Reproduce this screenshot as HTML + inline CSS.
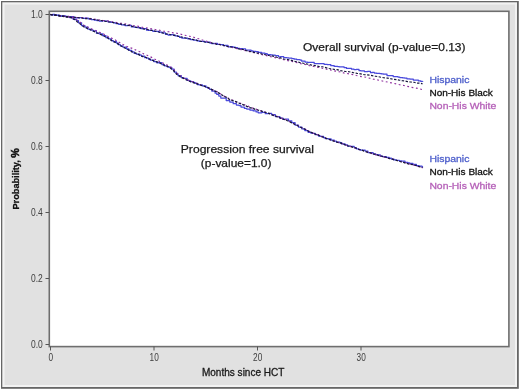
<!DOCTYPE html>
<html><head><meta charset="utf-8"><title>Survival</title>
<style>
html,body{margin:0;padding:0;background:#fff;}
body{width:520px;height:390px;overflow:hidden;}
svg{display:block;filter:blur(0.35px);font-family:"Liberation Sans","DejaVu Sans",sans-serif;}
.tk{font-size:10.6px;fill:#3e3e3e;}
.lb{fill:#1a1a1a;stroke:#1a1a1a;stroke-width:0.25px;}
.lg{font-size:9.7px;stroke-width:0.3px;}
.ax{fill:#1a1a1a;stroke:#1a1a1a;stroke-width:0.3px;}
.ay{fill:#111;font-weight:bold;stroke:#111;stroke-width:0.3px;}
</style></head><body>
<svg width="520" height="390" viewBox="0 0 520 390">
<rect x="0" y="0" width="520" height="390" fill="#fff"/>
<rect x="1" y="1" width="517.8" height="387.8" fill="#666"/>
<rect x="2.3" y="2.3" width="514.7" height="384.7" fill="#f2f2f2"/>
<rect x="4.5" y="4.5" width="510.5" height="380.5" fill="#e1e1e1"/>
<rect x="49.3" y="11.3" width="459.6" height="335.3" fill="#fff" stroke="#6e6e6e" stroke-width="1.6"/>
<line x1="45.5" x2="49" y1="14.5" y2="14.5" stroke="#555" stroke-width="1"/>
<text transform="translate(42.8,18.2) scale(0.8,1)" text-anchor="end" class="tk">1.0</text>
<line x1="45.5" x2="49" y1="80.5" y2="80.5" stroke="#555" stroke-width="1"/>
<text transform="translate(42.8,84.2) scale(0.8,1)" text-anchor="end" class="tk">0.8</text>
<line x1="45.5" x2="49" y1="146.5" y2="146.5" stroke="#555" stroke-width="1"/>
<text transform="translate(42.8,150.2) scale(0.8,1)" text-anchor="end" class="tk">0.6</text>
<line x1="45.5" x2="49" y1="212.5" y2="212.5" stroke="#555" stroke-width="1"/>
<text transform="translate(42.8,216.2) scale(0.8,1)" text-anchor="end" class="tk">0.4</text>
<line x1="45.5" x2="49" y1="278.5" y2="278.5" stroke="#555" stroke-width="1"/>
<text transform="translate(42.8,282.2) scale(0.8,1)" text-anchor="end" class="tk">0.2</text>
<line x1="45.5" x2="49" y1="344.5" y2="344.5" stroke="#555" stroke-width="1"/>
<text transform="translate(42.8,348.2) scale(0.8,1)" text-anchor="end" class="tk">0.0</text>
<line x1="50.5" x2="50.5" y1="346.5" y2="350.5" stroke="#555" stroke-width="1"/>
<text transform="translate(50.7,360.9) scale(0.78,1)" text-anchor="middle" class="tk">0</text>
<line x1="154" x2="154" y1="346.5" y2="350.5" stroke="#555" stroke-width="1"/>
<text transform="translate(154.2,360.9) scale(0.78,1)" text-anchor="middle" class="tk">10</text>
<line x1="257.5" x2="257.5" y1="346.5" y2="350.5" stroke="#555" stroke-width="1"/>
<text transform="translate(257.7,360.9) scale(0.78,1)" text-anchor="middle" class="tk">20</text>
<line x1="361" x2="361" y1="346.5" y2="350.5" stroke="#555" stroke-width="1"/>
<text transform="translate(361.2,360.9) scale(0.78,1)" text-anchor="middle" class="tk">30</text>
<g fill="none" stroke-linejoin="round" filter="url(#b)">
<path d="M50.4,14.5 L52.5,14.5 L52.5,14.9 L54.8,14.9 L54.8,15.3 L57.6,15.3 L57.6,15.2 L59.2,15.2 L59.2,16.2 L61.3,16.2 L61.3,15.8 L65.0,15.8 L65.0,16.4 L68.3,16.4 L68.3,16.7 L71.2,16.7 L71.2,16.7 L74.0,16.7 L74.0,17.7 L76.7,17.7 L76.7,17.9 L79.6,17.9 L79.6,17.6 L82.8,17.6 L82.8,18.4 L85.0,18.4 L85.0,18.1 L88.3,18.1 L88.3,18.9 L91.4,18.9 L91.4,19.7 L94.4,19.7 L94.4,20.2 L96.8,20.2 L96.8,20.5 L99.3,20.5 L99.3,21.0 L102.7,21.0 L102.7,20.7 L104.5,20.7 L104.5,21.1 L108.1,21.1 L108.1,21.9 L111.0,21.9 L111.0,22.3 L113.6,22.3 L113.6,22.9 L115.9,22.9 L115.9,23.5 L118.6,23.5 L118.6,24.3 L121.6,24.3 L121.6,24.9 L125.0,24.9 L125.0,25.6 L127.9,25.6 L127.9,25.4 L131.3,25.4 L131.3,26.9 L134.7,26.9 L134.7,27.3 L137.7,27.3 L137.7,27.6 L141.0,27.6 L141.0,28.7 L143.2,28.7 L143.2,28.6 L146.5,28.6 L146.5,30.2 L148.3,30.2 L148.3,30.4 L150.7,30.4 L150.7,30.3 L152.9,30.3 L152.9,31.4 L156.2,31.4 L156.2,31.4 L159.1,31.4 L159.1,32.0 L162.1,32.0 L162.1,32.9 L165.5,32.9 L165.5,34.4 L168.1,34.4 L168.1,35.0 L170.3,35.0 L170.3,34.5 L173.1,34.5 L173.1,35.1 L175.1,35.1 L175.1,35.9 L177.9,35.9 L177.9,36.3 L179.6,36.3 L179.6,37.4 L181.8,37.4 L181.8,38.0 L185.2,38.0 L185.2,38.1 L187.7,38.1 L187.7,38.8 L190.6,38.8 L190.6,39.5 L193.4,39.5 L193.4,40.1 L196.9,40.1 L196.9,40.8 L199.3,40.8 L199.3,41.4 L201.4,41.4 L201.4,41.4 L205.0,41.4 L205.0,42.2 L207.7,42.2 L207.7,42.2 L210.1,42.2 L210.1,43.2 L211.7,43.2 L211.7,43.5 L214.6,43.5 L214.6,43.4 L217.4,43.4 L217.4,44.3 L220.4,44.3 L220.4,44.7 L223.5,44.7 L223.5,45.7 L225.1,45.7 L225.1,45.3 L228.0,45.3 L228.0,46.8 L230.1,46.8 L230.1,46.7 L232.9,46.7 L232.9,47.1 L235.2,47.1 L235.2,47.5 L237.5,47.5 L237.5,48.3 L239.7,48.3 L239.7,48.6 L242.9,48.6 L242.9,48.9 L245.6,48.9 L245.6,50.2 L247.8,50.2 L247.8,50.1 L251.1,50.1 L251.1,50.8 L253.0,50.8 L253.0,51.4 L256.0,51.4 L256.0,51.7 L258.3,51.7 L258.3,52.4 L261.6,52.4 L261.6,53.1 L264.9,53.1 L264.9,53.5 L267.2,53.5 L267.2,54.5 L270.6,54.5 L270.6,54.9 L272.6,54.9 L272.6,55.0 L275.3,55.0 L275.3,55.5 L278.5,55.5 L278.5,56.8 L280.4,56.8 L280.4,56.5 L283.7,56.5 L283.7,57.5 L286.9,57.5 L286.9,57.8 L288.7,57.8 L288.7,58.0 L291.9,58.0 L291.9,58.6 L294.2,58.6 L294.2,59.2 L296.7,59.2 L296.7,59.7 L300.1,59.7 L300.1,60.1 L301.7,60.1 L301.7,61.2 L305.1,61.2 L305.1,62.0 L307.6,62.0 L307.6,62.4 L311.1,62.4 L311.1,62.4 L314.2,62.4 L314.2,63.5 L317.1,63.5 L317.1,63.6 L319.3,63.6 L319.3,63.7 L321.3,63.7 L321.3,63.7 L324.1,63.7 L324.1,64.3 L327.3,64.3 L327.3,64.6 L330.8,64.6 L330.8,65.7 L334.2,65.7 L334.2,66.4 L337.7,66.4 L337.7,66.5 L339.3,66.5 L339.3,66.9 L341.2,66.9 L341.2,66.8 L344.1,66.8 L344.1,67.6 L346.5,67.6 L346.5,68.4 L349.4,68.4 L349.4,68.3 L351.5,68.3 L351.5,69.2 L354.0,69.2 L354.0,69.6 L356.3,69.6 L356.3,69.4 L359.0,69.4 L359.0,70.5 L360.9,70.5 L360.9,70.9 L364.4,70.9 L364.4,71.5 L367.6,71.5 L367.6,71.3 L370.5,71.3 L370.5,72.7 L372.2,72.7 L372.2,72.4 L374.3,72.4 L374.3,73.0 L376.7,73.0 L376.7,73.4 L379.9,73.4 L379.9,73.5 L381.6,73.5 L381.6,73.9 L383.4,73.9 L383.4,74.2 L387.0,74.2 L387.0,75.6 L388.7,75.6 L388.7,75.5 L390.9,75.5 L390.9,75.7 L393.2,75.7 L393.2,76.5 L396.0,76.5 L396.0,76.7 L398.0,76.7 L398.0,77.0 L399.8,77.0 L399.8,77.5 L402.8,77.5 L402.8,77.9 L404.6,77.9 L404.6,78.0 L406.9,78.0 L406.9,78.8 L410.1,78.8 L410.1,79.2 L413.3,79.2 L413.3,80.0 L415.8,80.0 L415.8,80.2 L418.4,80.2 L418.4,80.9 L420.8,80.9 L420.8,81.4 L422.7,81.4 L422.7,81.2" stroke="#4848dc" stroke-width="1.25"/>
<path d="M50.4,14.5 L52.5,14.5 L52.5,14.4 L54.8,14.4 L54.8,14.8 L56.5,14.8 L56.5,15.3 L60.0,15.3 L60.0,16.2 L63.2,16.2 L63.2,16.1 L65.8,16.1 L65.8,16.5 L67.7,16.5 L67.7,16.6 L69.8,16.6 L69.8,17.7 L73.0,17.7 L73.0,19.0 L76.3,19.0 L76.3,20.6 L78.5,20.6 L78.5,22.8 L81.6,22.8 L81.6,25.6 L84.9,25.6 L84.9,27.1 L87.8,27.1 L87.8,29.1 L90.4,29.1 L90.4,29.9 L92.9,29.9 L92.9,30.9 L96.4,30.9 L96.4,33.2 L99.1,33.2 L99.1,33.8 L102.6,33.8 L102.6,35.7 L106.0,35.7 L106.0,37.7 L108.6,37.7 L108.6,38.8 L111.4,38.8 L111.4,40.5 L113.3,40.5 L113.3,41.5 L116.5,41.5 L116.5,43.1 L118.2,43.1 L118.2,44.6 L120.3,44.6 L120.3,45.8 L122.9,45.8 L122.9,47.0 L126.5,47.0 L126.5,48.9 L128.9,48.9 L128.9,50.3 L131.8,50.3 L131.8,51.8 L134.1,51.8 L134.1,53.3 L136.3,53.3 L136.3,54.1 L139.8,54.1 L139.8,55.2 L141.5,55.2 L141.5,56.0 L144.6,56.0 L144.6,57.7 L146.7,57.7 L146.7,58.2 L148.6,58.2 L148.6,59.1 L150.2,59.1 L150.2,60.0 L153.7,60.0 L153.7,61.6 L156.8,61.6 L156.8,62.8 L158.4,62.8 L158.4,62.7 L161.9,62.7 L161.9,64.6 L164.3,64.6 L164.3,65.8 L167.2,65.8 L167.2,66.8 L169.4,66.8 L169.4,67.4 L171.8,67.4 L171.8,69.2 L174.2,69.2 L174.2,72.0 L176.4,72.0 L176.4,73.8 L178.1,73.8 L178.1,75.7 L181.3,75.7 L181.3,77.5 L183.5,77.5 L183.5,78.3 L187.1,78.3 L187.1,80.4 L189.0,80.4 L189.0,80.8 L190.7,80.8 L190.7,81.5 L193.7,81.5 L193.7,82.5 L195.3,82.5 L195.3,83.4 L197.4,83.4 L197.4,84.7 L199.2,84.7 L199.2,84.9 L202.4,84.9 L202.4,85.9 L206.0,85.9 L206.0,87.3 L208.1,87.3 L208.1,88.4 L209.7,88.4 L209.7,89.4 L211.8,89.4 L211.8,91.1 L215.1,91.1 L215.1,93.2 L216.7,93.2 L216.7,94.3 L218.8,94.3 L218.8,96.0 L220.8,96.0 L220.8,98.0 L222.7,98.0 L222.7,98.1 L226.2,98.1 L226.2,100.5 L229.8,100.5 L229.8,102.1 L233.2,102.1 L233.2,103.7 L236.4,103.7 L236.4,105.1 L239.0,105.1 L239.0,105.5 L241.0,105.5 L241.0,107.0 L244.4,107.0 L244.4,108.4 L246.7,108.4 L246.7,109.0 L249.9,109.0 L249.9,110.1 L253.2,110.1 L253.2,110.9 L256.1,110.9 L256.1,111.9 L258.2,111.9 L258.2,112.8 L261.8,112.8 L261.8,112.4 L265.3,112.4 L265.3,113.7 L268.3,113.7 L268.3,113.4 L271.7,113.4 L271.7,114.7 L275.3,114.7 L275.3,116.5 L277.0,116.5 L277.0,116.6 L279.9,116.6 L279.9,118.0 L283.0,118.0 L283.0,119.4 L285.0,119.4 L285.0,119.2 L288.5,119.2 L288.5,120.8 L291.8,120.8 L291.8,122.7 L295.1,122.7 L295.1,125.1 L298.5,125.1 L298.5,127.0 L301.9,127.0 L301.9,128.9 L304.8,128.9 L304.8,130.6 L308.2,130.6 L308.2,132.4 L310.8,132.4 L310.8,133.1 L312.4,133.1 L312.4,133.3 L315.2,133.3 L315.2,134.7 L318.5,134.7 L318.5,136.0 L320.4,136.0 L320.4,136.4 L323.6,136.4 L323.6,137.7 L325.1,137.7 L325.1,138.6 L328.4,138.6 L328.4,138.9 L331.1,138.9 L331.1,140.1 L334.3,140.1 L334.3,141.1 L336.4,141.1 L336.4,142.0 L339.9,142.0 L339.9,142.7 L341.7,142.7 L341.7,143.9 L345.1,143.9 L345.1,144.9 L347.6,144.9 L347.6,146.1 L350.8,146.1 L350.8,146.3 L354.2,146.3 L354.2,147.5 L356.3,147.5 L356.3,148.8 L358.8,148.8 L358.8,149.5 L360.7,149.5 L360.7,150.2 L362.6,150.2 L362.6,150.1 L365.2,150.1 L365.2,151.1 L367.9,151.1 L367.9,152.5 L370.9,152.5 L370.9,152.5 L373.1,152.5 L373.1,153.8 L375.7,153.8 L375.7,154.7 L378.3,154.7 L378.3,154.8 L380.3,154.8 L380.3,156.1 L382.6,156.1 L382.6,156.6 L386.3,156.6 L386.3,157.4 L389.2,157.4 L389.2,158.2 L391.4,158.2 L391.4,159.1 L394.0,159.1 L394.0,159.8 L396.2,159.8 L396.2,160.3 L399.4,160.3 L399.4,160.9 L401.8,160.9 L401.8,161.2 L405.0,161.2 L405.0,162.3 L407.9,162.3 L407.9,162.9 L409.7,162.9 L409.7,163.4 L412.9,163.4 L412.9,164.3 L416.4,164.3 L416.4,165.5 L419.1,165.5 L419.1,166.2 L422.0,166.2 L422.0,166.7 L422.5,166.7 L422.5,167.7" stroke="#4848dc" stroke-width="1.25"/>
<path d="M50.4,14.5 L53.3,15.0 L56.5,15.5 L59.6,15.9 L61.2,15.9 L64.7,16.3 L68.1,16.4 L70.7,16.7 L73.4,17.1 L75.0,17.1 L77.1,17.5 L80.3,17.5 L83.5,17.8 L86.3,18.0 L87.9,18.5 L89.9,18.4 L93.5,19.1 L95.6,19.4 L98.3,19.7 L100.3,20.1 L103.3,20.5 L106.7,20.8 L109.0,21.1 L110.9,21.4 L113.1,22.0 L114.7,22.3 L116.9,22.5 L120.2,23.2 L122.4,23.5 L125.4,23.9 L129.0,24.5 L132.1,25.4 L133.7,25.7 L136.0,26.1 L137.6,26.1 L139.6,26.8 L141.5,27.1 L145.0,27.8 L147.3,28.0 L150.0,28.6 L151.7,28.9 L155.0,29.5 L156.6,29.8 L158.3,29.9 L161.2,30.7 L163.4,31.1 L166.1,31.3 L168.4,31.7 L170.1,32.0 L173.1,32.9 L175.0,32.8 L178.6,33.7 L181.0,34.2 L183.8,35.1 L186.3,35.5 L188.0,36.1 L189.6,36.3 L192.9,37.0 L196.0,38.1 L198.8,38.8 L200.6,39.2 L202.5,40.0 L204.7,40.5 L208.3,41.8 L211.9,42.8 L214.5,43.5 L217.0,43.9 L219.4,44.4 L221.8,45.3 L225.3,45.9 L227.9,46.4 L229.7,46.8 L232.9,47.7 L235.2,48.2 L238.3,49.0 L241.3,49.7 L243.6,50.2 L245.7,50.6 L248.9,51.5 L251.1,52.1 L254.0,52.6 L255.6,53.0 L257.7,53.5 L260.2,54.2 L263.1,54.9 L265.4,55.3 L268.5,56.1 L270.8,56.7 L274.1,57.4 L277.7,58.4 L280.3,58.8 L282.3,59.4 L285.8,60.1 L288.8,60.9 L291.8,61.4 L295.0,62.3 L298.0,62.9 L300.8,63.7 L303.7,64.4 L305.3,64.5 L307.8,65.3 L309.8,65.8 L312.7,66.2 L315.2,66.8 L316.9,67.1 L319.1,67.6 L321.1,67.9 L323.6,68.6 L326.4,69.2 L328.5,69.8 L330.1,69.9 L332.2,70.4 L334.0,70.9 L336.3,71.1 L339.2,71.7 L341.9,72.3 L344.6,73.2 L347.9,73.6 L351.2,74.4 L353.5,74.7 L356.3,75.5 L359.8,76.4 L362.7,76.8 L366.1,77.3 L367.9,77.9 L370.7,78.4 L373.6,79.3 L375.9,79.6 L377.9,80.0 L381.5,80.8 L385.1,81.7 L387.9,82.1 L391.5,82.9 L393.9,83.4 L397.5,84.2 L399.7,84.7 L401.5,85.1 L404.0,85.5 L407.2,86.4 L408.7,86.6 L410.9,87.3 L414.1,87.7 L416.2,88.1 L419.8,88.9 L422.6,89.6 L422.7,89.6" stroke="#8e2f9e" stroke-width="1.15" stroke-dasharray="1.8 2.6"/>
<path d="M50.4,14.5 L53.6,15.0 L56.2,15.2 L57.7,15.5 L60.3,15.9 L62.6,16.2 L64.7,16.5 L67.8,16.8 L70.5,17.3 L72.5,17.8 L75.7,19.1 L78.9,21.4 L82.2,23.8 L84.0,25.2 L87.2,26.7 L89.0,27.5 L91.9,29.0 L95.4,30.5 L97.4,31.3 L99.7,32.4 L103.1,33.8 L106.0,35.3 L109.3,37.1 L110.9,37.7 L113.7,39.2 L116.5,40.7 L119.9,42.8 L121.7,43.9 L123.9,44.9 L126.5,46.2 L128.5,47.3 L131.5,48.1 L134.7,49.4 L136.9,50.7 L139.8,51.7 L142.1,52.9 L143.9,54.0 L145.6,54.6 L148.7,56.0 L152.3,57.7 L155.9,59.7 L158.9,61.1 L161.3,62.3 L164.6,63.7 L167.1,65.0 L169.5,66.2 L172.6,68.5 L175.2,71.1 L177.1,73.2 L178.9,75.1 L181.2,76.3 L183.7,77.9 L185.8,78.9 L189.2,80.6 L191.3,81.3 L193.9,82.1 L196.2,83.1 L199.5,84.4 L202.4,85.8 L205.9,86.9 L208.7,88.0 L211.1,89.0 L214.3,90.5 L216.5,91.3 L219.0,92.7 L220.6,93.9 L222.4,94.9 L224.7,96.4 L228.0,97.9 L230.0,99.3 L232.8,100.2 L236.0,101.6 L238.6,102.5 L240.4,103.2 L242.2,104.0 L245.0,105.0 L247.9,106.1 L249.7,107.0 L252.2,107.9 L255.1,108.8 L256.9,109.4 L258.6,109.9 L262.1,111.2 L265.5,112.2 L268.5,113.3 L270.4,114.1 L273.8,115.2 L277.0,116.4 L279.1,117.3 L280.8,118.0 L284.4,119.2 L287.9,120.5 L291.3,122.3 L294.8,124.1 L298.3,125.7 L300.1,126.9 L302.9,128.2 L304.6,128.9 L306.9,130.0 L310.5,132.0 L314.1,133.5 L316.3,134.2 L319.4,135.5 L322.1,136.8 L324.7,137.7 L326.4,138.5 L328.0,139.0 L329.9,139.5 L331.8,140.3 L334.2,140.9 L336.2,141.7 L339.6,142.8 L341.5,143.4 L343.6,144.2 L346.8,145.3 L348.7,145.8 L351.1,146.6 L353.5,147.6 L356.2,148.4 L359.2,149.4 L362.5,150.3 L365.4,151.5 L367.3,152.0 L369.7,152.6 L371.3,153.4 L373.1,154.0 L374.9,154.4 L376.5,154.9 L379.7,155.7 L382.4,156.7 L384.6,157.1 L387.7,158.1 L389.6,158.5 L391.4,158.8 L395.0,159.8 L398.5,161.0 L401.4,161.8 L404.4,162.5 L406.8,163.1 L410.2,164.3 L413.4,165.0 L416.2,165.8 L419.4,166.9 L422.5,167.8" stroke="#8e2f9e" stroke-width="1.15" stroke-dasharray="1.8 2.6"/>
<path d="M50.4,14.5 L52.6,14.7 L55.5,15.1 L58.2,15.6 L59.9,15.9 L61.5,16.1 L63.2,16.1 L65.7,16.7 L67.5,16.6 L70.4,17.2 L73.1,17.2 L76.7,17.4 L80.1,17.9 L81.9,18.0 L84.1,18.5 L86.1,18.6 L89.0,18.8 L91.7,18.9 L93.3,19.3 L96.3,19.8 L98.5,20.2 L101.0,20.5 L104.2,21.2 L106.3,21.4 L109.0,22.0 L112.0,22.3 L115.6,22.9 L118.1,23.7 L119.9,23.9 L121.6,24.3 L124.7,24.8 L128.1,25.4 L131.1,26.1 L133.9,26.7 L137.2,27.6 L139.7,28.0 L141.4,28.4 L144.3,29.1 L147.6,29.5 L150.0,30.2 L151.6,30.4 L153.5,30.6 L155.2,31.3 L157.0,31.5 L159.4,32.3 L161.1,32.5 L163.8,33.3 L167.1,34.0 L169.2,34.3 L171.5,35.0 L175.1,35.4 L177.0,35.9 L179.0,36.5 L181.8,37.0 L183.4,37.4 L185.7,38.0 L189.3,38.8 L191.9,39.4 L194.9,39.7 L198.3,40.8 L201.7,41.5 L204.0,41.7 L205.8,42.2 L207.5,42.2 L209.5,42.6 L211.8,43.0 L213.3,43.4 L215.1,43.8 L216.7,44.4 L219.5,44.5 L221.6,45.1 L224.0,45.4 L227.3,46.5 L229.8,46.8 L231.5,47.0 L233.8,47.5 L237.1,48.2 L238.7,49.0 L241.4,49.2 L244.1,49.7 L246.7,50.8 L250.1,51.4 L252.2,51.7 L254.1,52.4 L256.8,52.9 L259.0,53.1 L262.2,54.2 L265.6,54.8 L268.8,55.5 L270.9,55.8 L273.2,56.1 L274.8,56.6 L276.9,57.3 L280.4,57.9 L283.9,59.0 L287.5,59.5 L289.5,59.9 L291.5,60.4 L294.3,61.3 L297.6,61.9 L300.6,62.7 L302.3,63.0 L305.8,63.8 L308.9,64.3 L310.8,64.9 L313.1,65.3 L316.6,65.8 L319.0,66.6 L322.1,66.8 L323.9,67.1 L327.4,68.1 L329.2,68.5 L332.8,69.1 L335.1,69.5 L337.0,69.6 L340.5,70.6 L343.2,71.1 L345.6,71.5 L348.9,71.7 L351.0,72.1 L353.1,72.6 L355.2,72.9 L357.0,73.4 L359.3,73.6 L362.1,74.2 L364.5,74.7 L367.1,74.9 L369.8,75.1 L372.2,75.6 L373.8,76.1 L375.7,76.3 L378.8,76.8 L381.0,77.2 L383.7,77.7 L385.5,77.9 L387.6,78.1 L390.8,78.7 L393.5,79.3 L397.0,79.7 L399.8,80.2 L402.4,80.7 L404.9,81.0 L407.5,81.6 L410.5,82.0 L414.0,82.3 L416.7,83.1 L420.0,83.2 L421.8,83.6 L422.7,83.7" stroke="#15153a" stroke-width="1.15" stroke-dasharray="2.4 1.5"/>
<path d="M50.4,14.5 L52.4,15.0 L54.3,15.2 L56.0,15.2 L59.6,15.7 L62.5,16.3 L65.0,16.6 L67.0,17.1 L68.7,17.0 L70.3,17.3 L72.7,18.6 L75.1,19.7 L77.2,21.7 L78.9,22.8 L81.2,24.7 L83.5,26.6 L86.1,27.8 L89.5,29.5 L91.4,30.2 L94.9,31.8 L96.9,32.8 L99.6,33.9 L103.0,35.4 L105.3,36.8 L107.2,37.7 L108.9,38.7 L111.9,40.7 L115.3,42.4 L117.2,43.4 L119.9,45.1 L121.6,46.3 L124.2,47.7 L126.2,48.6 L127.8,49.5 L129.9,50.7 L132.3,52.0 L135.7,53.2 L138.1,54.3 L141.0,56.0 L143.0,56.6 L145.2,57.1 L148.3,58.5 L150.2,59.3 L152.3,60.2 L154.8,61.2 L157.6,62.2 L159.3,62.8 L161.1,63.7 L163.4,64.8 L166.0,65.8 L169.6,67.4 L171.2,68.7 L173.6,70.7 L176.7,74.3 L180.2,76.6 L183.5,78.4 L186.9,80.0 L190.5,81.7 L194.1,82.9 L196.0,83.7 L198.5,84.1 L201.3,85.3 L203.9,86.0 L205.7,86.9 L208.2,87.7 L210.7,89.1 L213.7,90.4 L216.1,91.6 L218.1,92.7 L220.6,94.0 L223.7,96.1 L226.5,97.4 L228.8,99.0 L230.6,100.0 L233.7,101.0 L236.8,102.1 L238.8,103.0 L241.9,104.3 L243.5,104.9 L246.9,106.4 L250.4,107.8 L252.4,108.1 L255.1,109.3 L257.5,110.0 L260.8,110.9 L263.6,112.0 L266.8,112.7 L270.2,113.9 L272.5,115.1 L275.8,116.1 L278.0,117.1 L281.3,118.4 L284.8,119.7 L288.1,121.0 L290.4,122.1 L293.0,123.4 L296.3,125.0 L298.0,126.0 L300.1,126.9 L301.9,128.0 L304.0,128.8 L307.2,130.5 L309.4,131.8 L311.8,132.6 L315.4,134.2 L318.5,135.2 L321.7,136.7 L325.0,137.9 L328.2,139.2 L330.6,139.9 L333.8,141.2 L337.2,142.2 L339.1,142.7 L342.1,143.5 L344.6,144.7 L348.0,145.9 L349.8,146.3 L353.1,147.4 L355.4,147.8 L358.8,149.4 L361.8,150.1 L365.0,151.4 L368.1,152.3 L370.3,152.9 L372.6,153.6 L375.3,154.4 L378.3,155.3 L380.2,155.8 L382.6,156.5 L385.8,157.2 L387.8,157.9 L389.7,158.6 L391.5,158.8 L394.2,159.9 L397.5,160.7 L399.8,161.4 L402.8,162.1 L405.6,163.1 L409.2,164.1 L411.0,164.3 L413.5,164.8 L416.6,165.7 L420.0,166.9 L422.5,167.5" stroke="#15153a" stroke-width="1.3" stroke-dasharray="2.4 1.5"/>
</g>
<text x="303" y="50.8" class="lb" font-size="11.2" textLength="162.5" lengthAdjust="spacingAndGlyphs">Overall survival (p-value=0.13)</text>
<text x="180.8" y="152.5" class="lb" font-size="11.2" textLength="133.2" lengthAdjust="spacingAndGlyphs">Progression free survival</text>
<text x="200.8" y="166.5" class="lb" font-size="11.2" textLength="70.7" lengthAdjust="spacingAndGlyphs">(p-value=1.0)</text>
<text x="429.4" y="82.8" class="lg" fill="#4f60cc" stroke="#4f60cc" textLength="40" lengthAdjust="spacingAndGlyphs">Hispanic</text>
<text x="429.4" y="96.0" class="lg" fill="#111" stroke="#111" textLength="63.5" lengthAdjust="spacingAndGlyphs">Non-His Black</text>
<text x="429.4" y="109.1" class="lg" fill="#b560b8" stroke="#b560b8" textLength="66.8" lengthAdjust="spacingAndGlyphs">Non-His White</text>
<text x="429.4" y="162.2" class="lg" fill="#4f60cc" stroke="#4f60cc" textLength="40" lengthAdjust="spacingAndGlyphs">Hispanic</text>
<text x="429.4" y="175.39999999999998" class="lg" fill="#111" stroke="#111" textLength="63.5" lengthAdjust="spacingAndGlyphs">Non-His Black</text>
<text x="429.4" y="188.5" class="lg" fill="#b560b8" stroke="#b560b8" textLength="66.8" lengthAdjust="spacingAndGlyphs">Non-His White</text>
<text x="243.2" y="375.8" text-anchor="middle" class="ax" font-size="10.2" textLength="82.5" lengthAdjust="spacingAndGlyphs">Months since HCT</text>
<text transform="translate(18.6,178.8) rotate(-90)" text-anchor="middle" class="ay" font-size="9.8" textLength="61.5" lengthAdjust="spacingAndGlyphs">Probability, <tspan font-size="11.5" stroke-width="0.5">%</tspan></text>
<defs><filter id="b" x="-5%" y="-5%" width="110%" height="110%"><feGaussianBlur stdDeviation="0.35"/></filter></defs>
</svg>
</body></html>
